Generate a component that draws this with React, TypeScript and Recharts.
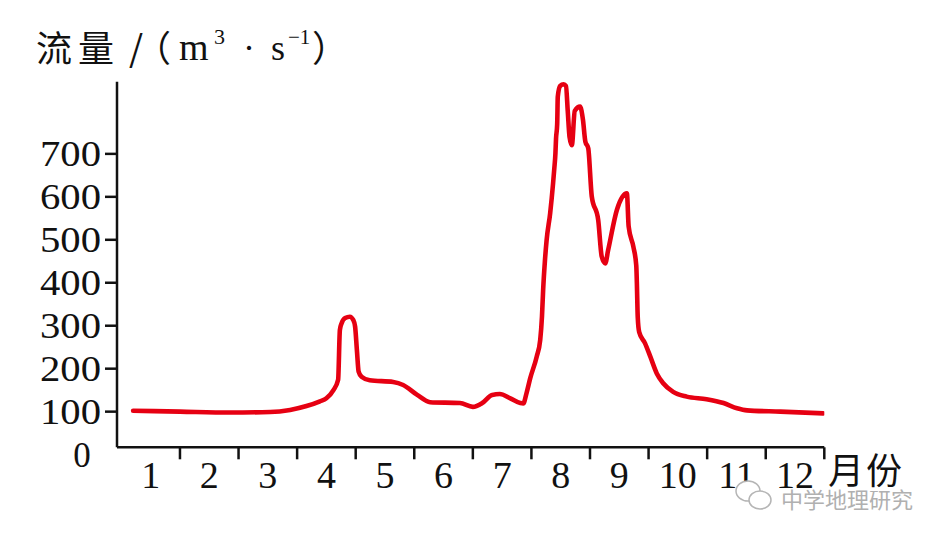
import React from "react";
import { LineChart, Line, XAxis, YAxis } from "recharts";

// ---- data ----
const X_LABELS = ["1", "2", "3", "4", "5", "6", "7", "8", "9", "10", "11", "12"];
const X_TICKS = [1, 2, 3, 4, 5, 6, 7, 8, 9, 10, 11, 12];
const Y_TICKS = [100, 200, 300, 400, 500, 600, 700];
const Y_ZERO_LABEL = "0";
const Y_TITLE_CN = "流量";
const X_TITLE = "月份";
const WATERMARK = "中学地理研究";

// month position (0..12) of each sampled point
const MONTH_POS = [
  0.2, 1.0, 1.85, 2.54, 2.88, 3.16, 3.39, 3.5, 3.62, 3.7, 3.73, 3.76, 3.82, 3.9, 3.96, 3.99,
  4.02, 4.05, 4.1, 4.24, 4.64, 4.81, 5.05, 5.27, 5.78, 6.0, 6.16, 6.33, 6.46, 6.64, 6.81,
  6.86, 6.92, 6.98, 7.09, 7.15, 7.18, 7.2, 7.23, 7.26, 7.32, 7.37, 7.39, 7.41, 7.42, 7.44,
  7.45, 7.49, 7.55, 7.59, 7.62, 7.65, 7.69, 7.74, 7.83, 7.88, 7.92, 7.97, 8.03, 8.14, 8.2,
  8.26, 8.31, 8.46, 8.63, 8.66, 8.74, 8.79, 8.8, 8.815, 8.84, 8.94, 9.03, 9.14, 9.25, 9.42,
  9.65, 9.99, 10.28, 10.51, 10.68, 11.25, 11.98,
];
// flow (m3/s)
const FLOW = [
  102, 100, 98, 99, 104, 113, 124, 131, 150, 174, 290, 306, 318, 321, 313, 298,
  244, 193, 181, 173, 169, 162, 139, 122, 120, 111, 120, 139, 141, 131, 120,
  119, 145, 178, 228, 267, 321, 383, 450, 500, 562, 632, 665, 702, 735, 770,
  833, 858, 862, 858, 800, 740, 720, 800, 810, 779, 729, 713, 601, 546, 461,
  445, 476, 570, 608, 531, 484, 440, 400, 320, 285, 259, 228, 189, 166, 146,
  135, 129, 120, 108, 103, 100, 96,
];

const data = MONTH_POS.map((m, i) => ({ m, v: FLOW[i] }));

// ---- layout ----
const W = 947;
const H = 538;
const PLOT_LEFT = 117;
const PLOT_RIGHT = 824.3;
const PLOT_TOP = 81.7;
const PLOT_BOTTOM = 447.3;
const Y_AXIS_W = 60;
const X_AXIS_H = 40;
const X_MIN = -0.075;
const X_MAX = 12;
const Y_FLOOR = 17;
const Y_MAX = 868;
const HALF_STEP = (PLOT_RIGHT - PLOT_LEFT) / (X_MAX - X_MIN) / 2;

const INK = "#111";
const RED = "#e60012";
const SERIF = "'Liberation Serif', 'Times New Roman', serif";
const CJK = "'Noto Sans CJK SC', 'Noto Sans', sans-serif";

const XTick = (props: any) => {
  const { x, payload } = props;
  const idx = X_TICKS.indexOf(payload.value);
  return (
    <g>
      <line x1={x} y1={PLOT_BOTTOM} x2={x} y2={PLOT_BOTTOM + 12} stroke={INK} strokeWidth={2.5} />
      <text x={x - HALF_STEP} y={488} textAnchor="middle" fontFamily={SERIF} fontSize={38} fill={INK}>
        {X_LABELS[idx]}
      </text>
    </g>
  );
};

const YTick = (props: any) => {
  const { y, payload } = props;
  if (payload.value === Y_FLOOR) {
    return (
      <text x={82} y={y + 20} textAnchor="middle" fontFamily={SERIF} fontSize={35} fill={INK}>
        {Y_ZERO_LABEL}
      </text>
    );
  }
  return (
    <g>
      <line x1={PLOT_LEFT - 12} y1={y} x2={PLOT_LEFT} y2={y} stroke={INK} strokeWidth={2.5} />
      <text
        x={101}
        y={y + 12}
        textAnchor="end"
        fontFamily={SERIF}
        fontSize={35}
        fill={INK}
        textLength={61}
        lengthAdjust="spacingAndGlyphs"
      >
        {String(payload.value)}
      </text>
    </g>
  );
};

export default function App() {
  return (
    <div style={{ position: "absolute", left: 0, top: 0, width: W, height: H, background: "#fff" }}>
      <LineChart
        width={W}
        height={H}
        data={data}
        margin={{
          top: PLOT_TOP,
          right: W - PLOT_RIGHT,
          bottom: H - PLOT_BOTTOM - X_AXIS_H,
          left: PLOT_LEFT - Y_AXIS_W,
        }}
      >
        <XAxis
          dataKey="m"
          type="number"
          domain={[X_MIN, X_MAX]}
          ticks={X_TICKS}
          interval={0}
          height={X_AXIS_H}
          tickLine={false}
          axisLine={{ stroke: INK, strokeWidth: 2.5 }}
          tick={<XTick />}
          allowDataOverflow
        />
        <YAxis
          type="number"
          domain={[Y_FLOOR, Y_MAX]}
          ticks={[Y_FLOOR, ...Y_TICKS]}
          interval={0}
          width={Y_AXIS_W}
          tickLine={false}
          axisLine={{ stroke: INK, strokeWidth: 2.5 }}
          tick={<YTick />}
          allowDataOverflow
        />
        <Line
          type="monotone"
          dataKey="v"
          stroke={RED}
          strokeWidth={4.6}
          dot={false}
          activeDot={false}
          strokeLinejoin="round"
          strokeLinecap="round"
          isAnimationActive={false}
        />
      </LineChart>
      <svg
        width={W}
        height={H}
        style={{ position: "absolute", left: 0, top: 0, pointerEvents: "none" }}
      >
        {/* y-axis title, one text with styled runs */}
        <text fill={INK}>
          <tspan x={36} y={62} fontFamily={CJK} fontSize={36} letterSpacing={6}>{Y_TITLE_CN}</tspan>
          <tspan x={129} y={62} fontFamily={CJK} fontSize={36} letterSpacing={-8}>/（</tspan>
          <tspan x={179} y={60} fontFamily={SERIF} fontSize={38} letterSpacing={0}>m</tspan>
          <tspan x={214} y={44} fontFamily={SERIF} fontSize={22}>3</tspan>
          <tspan x={243} y={60} fontFamily={SERIF} fontSize={36}>·</tspan>
          <tspan x={271} y={60} fontFamily={SERIF} fontSize={36}>s</tspan>
          <tspan x={288} y={44} fontFamily={SERIF} fontSize={21}>−1</tspan>
          <tspan x={312} y={62} fontFamily={CJK} fontSize={36}>）</tspan>
        </text>
        {/* x-axis title */}
        <text x={828} y={484} fontFamily={CJK} fontSize={36} fill={INK} letterSpacing={2}>
          {X_TITLE}
        </text>
        {/* watermark */}
        <g fill="#fff" stroke="#b5b5b5" strokeWidth={1.5}>
          <ellipse cx={748} cy={491} rx={12} ry={10} />
          <ellipse cx={760} cy={500} rx={11} ry={9} />
        </g>
        <text x={781} y={508} fontFamily={CJK} fontSize={22} fill="#b0b0b0">
          {WATERMARK}
        </text>
      </svg>
    </div>
  );
}
